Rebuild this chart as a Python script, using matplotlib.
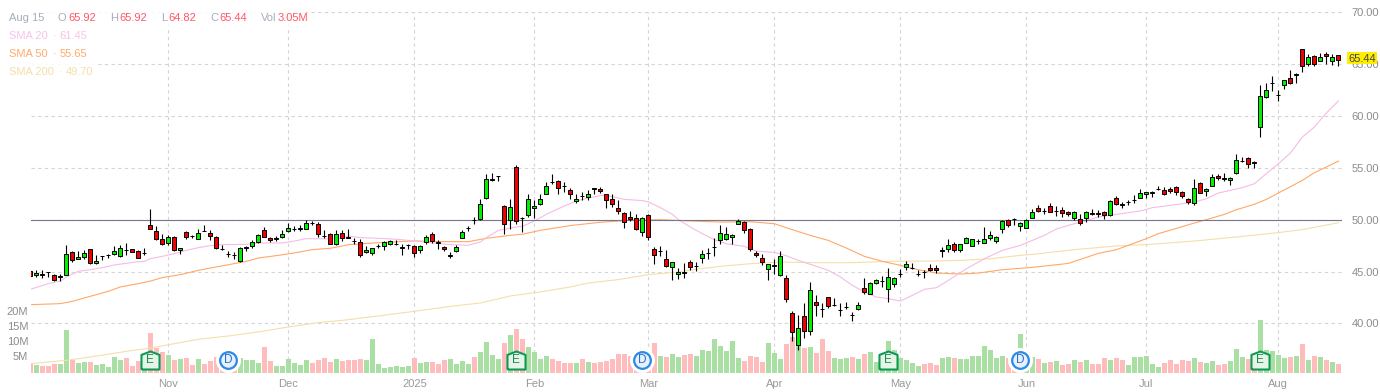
import numpy as np
import matplotlib
matplotlib.use('Agg')
import matplotlib.pyplot as plt
from matplotlib.patches import Rectangle

plt.rcParams['font.family'] = ['Liberation Sans', 'DejaVu Sans']

opens = [
    45.08,44.70,44.72,44.99,44.70,44.50,44.70,46.91,46.24,46.40,
    47.14,45.85,46.48,46.57,46.72,46.50,47.09,47.17,47.01,46.77,
    49.45,48.94,48.17,47.78,48.36,47.07,48.84,48.41,48.17,48.93,
    48.75,48.36,47.19,46.64,46.61,46.01,47.31,47.49,47.85,49.04,
    48.26,48.18,48.33,48.91,49.11,49.14,49.13,49.70,49.58,48.45,
    48.65,47.69,48.75,48.29,47.97,47.88,46.92,46.79,47.44,47.49,
    47.69,47.67,47.31,47.54,47.46,47.08,47.85,48.65,47.80,47.37,
    46.54,46.98,48.27,49.15,49.96,50.07,52.09,53.87,54.19,51.35,
    50.00,55.08,50.18,50.49,51.13,51.55,52.51,53.66,53.76,53.27,
    52.90,51.84,52.27,52.22,53.02,53.00,52.45,52.00,51.16,50.68,
    50.29,50.16,48.85,50.49,47.21,46.99,46.24,45.47,44.79,44.91,
    45.91,45.51,46.30,46.79,47.34,48.03,48.13,48.32,49.61,49.80,
    49.13,46.81,46.33,45.27,45.57,44.66,44.40,41.03,37.94,40.74,
    39.29,42.09,41.40,42.54,41.75,41.26,41.59,40.79,41.41,43.44,
    42.86,43.92,44.06,43.34,43.79,44.74,45.43,45.35,44.74,44.94,
    45.37,45.37,47.02,47.20,47.68,47.10,47.78,47.49,47.92,47.78,
    48.26,47.97,49.13,50.00,50.08,49.42,49.22,50.19,51.09,50.85,
    51.35,50.85,50.96,50.77,50.16,50.06,50.16,50.60,50.60,50.77,
    50.48,52.12,51.54,51.72,51.85,52.12,52.51,52.57,52.97,52.89,
    52.99,53.15,52.67,52.03,51.64,53.54,52.77,53.28,54.24,53.98,
    53.86,54.53,55.64,55.98,55.52,58.97,61.83,63.16,62.04,63.02,
    63.70,64.00,66.49,65.05,65.82,65.34,66.01,65.34,65.92]
highs = [
    45.11,45.18,45.11,45.00,44.79,44.79,47.52,46.98,46.95,47.04,
    47.20,46.56,46.52,46.72,47.43,47.52,47.75,47.20,47.04,47.24,
    51.06,49.36,48.65,48.49,48.43,47.30,48.91,48.55,49.13,49.45,
    49.04,48.46,47.53,46.98,46.85,47.36,47.49,48.01,48.62,49.29,
    48.30,48.43,48.97,49.68,49.36,49.45,50.00,49.90,49.78,48.97,
    48.71,49.04,49.04,49.07,48.27,48.17,47.50,47.30,47.62,47.91,
    48.07,48.01,47.62,47.69,47.59,47.53,48.49,48.78,48.01,47.43,
    46.88,47.53,48.97,49.36,50.26,52.03,54.38,54.50,54.23,51.45,
    52.03,55.31,50.26,52.45,51.87,52.51,53.60,54.38,53.83,53.60,
    53.02,52.45,52.64,52.83,53.02,53.19,52.51,52.45,51.93,50.74,
    50.84,50.58,50.26,50.58,47.37,47.43,47.05,45.92,45.37,45.82,
    46.14,45.91,47.10,47.26,48.26,49.45,49.29,48.65,50.09,49.87,
    49.19,46.97,46.65,45.75,46.23,46.94,44.69,41.15,40.83,41.96,
    43.95,42.70,41.96,42.57,42.41,41.96,42.02,41.09,42.09,44.40,
    44.02,44.31,44.53,45.37,44.47,45.27,45.98,45.82,45.11,45.17,
    45.75,45.66,47.36,48.13,47.87,47.68,48.32,48.16,48.13,49.26,
    48.94,48.42,49.93,50.09,50.16,49.77,50.06,51.06,51.45,51.16,
    51.61,51.29,51.19,50.84,50.87,50.58,50.84,51.06,50.90,50.84,
    51.87,52.31,51.67,51.87,52.35,52.93,52.70,52.77,53.28,53.15,
    53.12,53.22,52.77,52.12,53.96,53.67,53.02,54.37,54.44,54.47,
    54.12,56.30,56.08,56.05,55.63,62.96,63.21,63.89,62.47,63.50,
    64.40,64.18,66.49,66.01,65.85,66.11,66.20,66.01,65.92]
lows = [
    44.47,44.47,44.41,44.47,44.08,44.08,44.63,45.92,46.17,46.24,
    45.76,45.76,46.08,46.30,46.63,46.43,46.63,46.85,46.27,46.56,
    49.10,48.04,47.59,47.53,46.98,46.66,48.14,48.23,48.10,48.90,
    48.01,47.20,47.11,46.40,46.17,45.92,46.98,47.27,47.78,48.30,
    47.85,47.94,48.23,48.84,48.91,48.91,49.10,49.52,48.33,48.23,
    47.62,47.53,47.94,48.20,47.69,46.40,46.79,46.56,47.24,47.04,
    47.56,47.56,46.56,47.21,46.40,46.79,47.62,47.75,47.14,46.95,
    46.30,46.92,48.20,48.88,49.55,50.00,52.03,53.70,53.70,48.59,
    49.10,49.58,48.78,50.26,50.20,51.39,52.45,53.47,52.45,52.67,
    52.03,51.61,51.87,51.87,52.51,52.57,51.13,51.22,50.52,49.20,
    49.87,48.97,48.40,48.01,45.69,46.47,45.44,44.15,44.31,44.38,
    45.17,45.04,45.82,46.17,46.52,47.62,48.07,47.62,49.58,48.71,
    46.97,46.40,45.59,44.14,44.72,44.53,42.02,38.29,37.39,38.62,
    38.87,40.67,40.61,41.48,41.67,40.67,41.35,40.22,41.25,42.79,
    42.79,43.76,43.50,42.05,43.50,44.47,45.11,45.27,44.56,44.37,
    45.04,44.88,46.36,46.85,46.91,46.85,47.75,47.46,47.62,47.75,
    48.07,47.75,48.71,49.29,49.48,48.90,49.16,50.16,50.74,50.58,
    50.71,50.32,50.22,50.35,50.00,49.45,49.81,50.42,50.26,50.06,
    50.35,51.38,51.09,51.41,51.61,52.06,52.06,52.19,52.83,52.38,
    52.57,52.35,52.06,51.51,51.41,52.57,52.25,53.22,53.79,53.76,
    53.31,54.44,55.56,54.98,54.98,57.97,61.74,62.41,61.45,62.64,
    63.05,63.18,64.24,64.82,64.82,65.27,65.01,64.92,64.82]
closes = [
    44.60,44.89,44.70,44.97,44.21,44.57,46.72,46.14,46.43,46.82,
    45.82,46.05,46.50,46.59,47.01,47.30,47.06,46.88,46.30,46.80,
    49.13,48.14,47.69,48.36,47.07,47.30,48.36,48.38,48.75,48.90,
    48.43,47.27,47.16,46.67,46.58,47.30,47.34,47.88,48.55,48.36,
    48.04,48.21,48.65,49.23,49.14,49.17,49.71,49.67,48.65,48.42,
    47.69,48.65,48.23,48.26,47.94,46.60,47.11,47.30,47.46,47.85,
    47.98,47.70,47.33,47.56,46.82,47.46,48.36,47.95,47.77,47.17,
    46.57,47.37,48.85,49.18,49.93,51.55,53.96,53.90,54.21,49.62,
    51.22,49.87,50.16,52.03,51.35,52.03,53.28,53.63,53.09,53.24,
    52.48,52.03,52.25,52.51,53.00,52.77,51.90,51.55,50.84,49.81,
    50.03,49.13,50.20,48.33,46.63,47.02,45.53,45.92,44.99,44.88,
    45.43,45.53,46.68,46.81,47.36,48.74,48.65,48.55,49.90,49.00,
    47.20,46.62,45.95,45.75,45.59,46.52,42.38,39.19,39.58,39.29,
    43.24,41.80,41.37,41.70,41.78,41.29,41.62,40.76,41.80,43.05,
    43.89,44.21,44.09,44.47,44.40,44.77,45.75,45.38,44.77,44.91,
    45.14,45.14,47.05,47.58,47.10,47.62,48.26,48.13,47.95,48.13,
    48.55,48.36,49.87,49.51,50.05,49.64,50.00,50.74,50.84,50.88,
    50.74,50.88,50.64,50.58,50.77,49.68,50.77,50.57,50.57,50.45,
    51.80,51.54,51.41,51.75,51.88,52.60,52.64,52.70,53.00,52.51,
    52.77,52.70,52.28,51.70,53.09,52.60,52.99,54.15,54.02,53.95,
    54.05,55.79,55.67,55.40,55.49,61.96,62.54,63.19,62.07,63.50,
    63.21,64.03,64.85,65.69,65.05,65.69,65.82,65.69,65.44]
volumes = [
    3.4,2.6,2.3,2.3,3.1,2.9,14.2,4.2,3.3,3.6,
    3.8,2.7,2.9,1.9,5.3,4.2,5.0,2.3,3.9,2.7,
    13.3,8.2,7.0,5.9,4.4,4.7,5.0,2.6,4.6,2.9,
    4.1,5.3,4.8,5.3,4.8,4.9,4.2,4.2,3.3,8.6,
    3.9,2.2,2.2,4.6,3.3,2.7,4.2,3.2,4.2,4.9,
    3.6,4.8,3.9,4.2,4.2,4.6,4.2,11.2,2.9,1.7,
    1.9,2.2,1.9,2.2,4.9,3.2,3.6,3.6,2.9,4.2,
    4.6,2.9,3.9,2.9,5.2,6.9,10.2,5.9,4.6,9.9,
    12.6,14.6,11.2,8.6,6.9,4.6,5.6,4.6,4.1,3.2,
    3.2,3.2,4.6,3.6,3.2,3.6,3.9,4.6,6.4,6.2,
    5.7,5.3,8.4,5.3,9.9,5.6,5.2,6.2,5.2,5.9,
    6.3,5.6,7.6,7.2,11.2,8.9,7.2,10.6,4.9,3.9,
    5.6,5.2,3.6,9.9,6.6,4.6,9.6,11.9,10.6,8.2,
    8.6,6.6,11.2,7.2,4.9,4.6,4.9,5.2,4.6,6.2,
    6.9,3.6,6.4,10.6,7.8,5.0,4.2,3.2,2.2,2.9,
    3.2,2.6,5.0,5.2,4.9,4.6,4.6,5.6,5.6,8.9,
    7.6,4.9,5.6,4.9,4.2,12.9,6.4,5.2,4.6,3.2,
    3.6,3.9,2.6,2.9,4.2,3.6,4.2,2.9,2.9,4.9,
    4.2,4.9,4.2,2.6,5.2,5.2,5.6,2.9,1.9,3.2,
    4.2,2.9,4.2,3.9,4.9,3.6,3.2,3.9,2.6,2.9,
    3.9,7.9,5.2,4.6,2.0,17.6,7.8,7.2,5.9,4.9,
    5.2,5.6,9.6,4.2,5.6,5.2,4.2,3.6,3.05]

sma20_x = [0,3,5,6,8,10,12,14,16,18,19,20,22,24,25,26,28,30,32,36,38,42,44,46,50,52,53,55,58,61,
           64,67,70,73,75,76,78,81,82,84,86,88,91,93,95,96,99,102,103,105,107,108,110,112,114,116,119,121,124,126,
           128,131,133,135,137,139,141,143,145,147,149,151,153,156,159,162,165,167,169,171,173,175,178,181,185,187,191,194,196,198,
           202,204,206,208,210,212,214,216,218]
sma20 = [43.28,43.83,44.08,44.47,45.02,45.18,45.37,45.63,45.79,45.95,45.98,46.24,46.46,46.72,46.88,47.04,47.30,47.49,47.59,47.62,47.75,47.75,47.94,48.17,48.14,48.23,48.43,48.27,48.20,48.11,
         47.95,47.75,47.59,47.53,47.85,48.27,48.97,49.30,49.36,49.87,50.52,51.06,51.80,52.09,52.32,52.35,51.96,51.84,51.71,51.16,50.52,50.00,49.29,48.65,48.07,47.68,47.42,46.97,46.84,46.52,
         46.07,45.50,45.11,44.47,43.66,43.02,42.54,42.38,42.15,42.70,43.28,43.44,44.14,45.27,46.23,47.04,47.52,48.00,48.49,49.10,49.45,49.77,50.26,50.51,50.84,51.16,51.45,51.70,52.02,52.57,
         53.09,53.47,54.44,55.40,56.43,57.97,58.94,60.29,61.45]

sma50_x = [0,5,7,10,13,15,18,20,22,25,28,31,34,36,38,41,44,47,50,52,53,58,64,68,73,76,80,82,85,90,
           95,100,105,110,115,120,124,127,130,133,136,139,142,145,148,151,155,158,162,167,173,178,181,186,188,191,194,196,199,201,
           204,206,208,212,214,216,218]
sma50 = [41.80,41.90,42.12,42.61,43.09,43.51,43.83,44.08,44.41,44.70,45.11,45.44,45.76,45.98,46.30,46.53,46.79,47.11,47.24,47.46,47.59,47.78,47.95,47.88,47.88,48.20,48.49,48.59,48.97,49.43,
         49.75,49.94,50.00,49.87,49.77,49.80,49.61,49.03,48.48,48.00,47.26,46.46,45.98,45.59,45.17,44.85,44.76,44.85,45.17,45.40,45.78,46.75,47.10,48.17,48.65,49.16,49.68,50.00,50.51,50.96,
         51.48,51.96,52.57,53.79,54.53,55.08,55.65]

sma200_x = [0,6,10,16,20,24,28,33,38,43,48,52,58,64,70,75,80,85,90,93,98,103,108,110,115,120,125,131,137,143,
            150,155,160,165,167,174,181,186,194,202,208,212,218]
sma200 = [36.11,36.43,36.75,37.30,37.62,38.04,38.46,38.78,39.17,39.65,40.07,40.29,40.71,41.16,41.64,41.96,42.64,43.03,43.51,43.89,44.22,44.70,44.95,45.15,45.50,45.75,45.91,45.85,45.85,45.98,
          46.01,46.07,46.23,46.56,46.65,47.11,47.46,47.59,47.94,48.39,48.75,49.04,49.70]

month_pos = [23, 43, 64, 84, 103, 124, 145, 166, 186, 208]
month_lab = ['Nov', 'Dec', '2025', 'Feb', 'Mar', 'Apr', 'May', 'Jun', 'Jul', 'Aug']
price_ticks = [40, 45, 50, 55, 60, 65, 70]
vol_ticks = [5, 10, 15, 20]
earnings_idx = [20, 81, 143, 205]
dividend_idx = [33, 102, 165]

W, H = 1380, 392
GRAY = '#8c8c8c'


def px(x, y):
    return x / W, 1 - y / H


fig = plt.figure(figsize=(W / 100, H / 100), dpi=100, facecolor='white')
ax = fig.add_axes([31 / W, (H - 373) / H, 1311 / W, 361 / H], zorder=1)
ax_vol = ax.twinx()
ax_top = ax.twinx()
ax_vol.set_zorder(2)
ax_top.set_zorder(3)
for a in (ax_vol, ax_top):
    a.patch.set_visible(False)
for a in (ax, ax_vol, ax_top):
    for s in a.spines.values():
        s.set_visible(False)
    a.set_xlim(0.11, 218.6)

# grid and price scale
ax.set_ylim(35.21, 70.03)
ax_top.set_ylim(35.21, 70.03)
ax_vol.set_ylim(0, 361 / 3)
ax.set_yticks(price_ticks)
ax.set_yticklabels(['%.2f' % p for p in price_ticks])
ax.yaxis.tick_right()
ax.set_xticks(month_pos)
ax.set_xticklabels(month_lab)
ax.tick_params(axis='both', length=0, labelsize=8, labelcolor=GRAY)
ax.tick_params(axis='y', pad=7)
ax.tick_params(axis='x', pad=4, labelcolor='#999999')
ax.grid(True, color='#d4d4d4', lw=0.8, ls=(0, (3, 3)))
ax.set_axisbelow(True)

# volume bars, labels sit a little above their true level like in the source
o = np.array(opens)
c = np.array(closes)
x = np.arange(len(o))
up = c >= o
ax_vol.bar(x, volumes, width=0.84, color=np.where(up, '#a9dfa3', '#ffbcbc'), linewidth=0)
ax_vol.yaxis.tick_left()
ax_vol.set_yticks([v + 0.55 for v in vol_ticks])
ax_vol.set_yticklabels(['%dM' % v for v in vol_ticks])
ax_vol.tick_params(axis='y', length=0, labelsize=8, labelcolor=GRAY, pad=2)
ax_vol.tick_params(axis='x', length=0, labelbottom=False)

# moving averages and 50 line
ax_top.plot(sma200_x, sma200, color='#f5deaa', lw=0.8, zorder=2)
ax_top.plot(sma50_x, sma50, color='#ffa868', lw=0.8, zorder=2)
ax_top.plot(sma20_x, sma20, color='#f5bce4', lw=0.8, zorder=2)
ax_top.axhline(50, color='#77778f', lw=0.8, zorder=2.1)

# candles
ax_top.vlines(x, lows, highs, color='black', lw=0.8, zorder=3)
ax_top.bar(x, np.abs(c - o), bottom=np.minimum(o, c), width=0.68,
           color=np.where(up, '#00f000', '#f00000'), edgecolor='black', linewidth=0.7, zorder=4)
ax_top.tick_params(axis='both', length=0, labelright=False, labelbottom=False)

# earnings and dividend flags
tr = ax_top.get_xaxis_transform()
house = [(-1, -1), (1, -1), (1, 0.62), (0, 1), (-1, 0.62), (-1, -1)]
for i in earnings_idx:
    ax_top.plot(i, 0.036, marker=house, ms=13, mfc='#e6f4e8', mec='#0b9a55', mew=1.5,
                transform=tr, zorder=6, clip_on=False)
    ax_top.text(i, 0.036, 'E', color='#1c8a52', fontsize=8.5, ha='center', va='center',
                transform=tr, zorder=7)
for i in dividend_idx:
    ax_top.plot(i, 0.036, marker='o', ms=17, mfc='white', mec='white', transform=tr, zorder=6)
    ax_top.plot(i, 0.036, marker='o', ms=12, mfc='#e8f0fc', mec='#2b8be3', mew=1.6,
                transform=tr, zorder=6.5)
    ax_top.text(i, 0.036, 'D', color='#2b6fd0', fontsize=8.5, ha='center', va='center',
                transform=tr, zorder=7)

# last price tag
fig.patches.append(Rectangle(px(1347, 64), 30 / W, 12 / H, transform=fig.transFigure,
                             facecolor='#ffee00', edgecolor='none', zorder=5))
fig.text(*px(1362, 58.5), '65.44', color='#444444', fontsize=8, ha='center', va='center', zorder=6)

# legend block, white box fades what runs under it
fig.patches.append(Rectangle(px(0, 28), 306 / W, 20 / H, transform=fig.transFigure,
                             facecolor='white', edgecolor='none', alpha=0.85, zorder=5))
fig.patches.append(Rectangle(px(0, 80), 97 / W, 52 / H, transform=fig.transFigure,
                             facecolor='white', edgecolor='none', alpha=0.9, zorder=5))
LAB = '#a9abbd'
RED = '#ff5566'
row1 = [(9, 'Aug 15', LAB), (58, 'O', LAB), (68.3, '65.92', RED), (110, 'H', LAB), (119.3, '65.92', RED),
        (161, 'L', LAB), (168.3, '64.82', RED), (210, 'C', LAB), (219.3, '65.44', RED),
        (261, 'Vol', LAB), (277.3, '3.05M', RED)]
for xp, txt, col in row1:
    fig.text(*px(xp, 18), txt, color=col, fontsize=8, va='center', zorder=6)
rows = [(36, 'SMA 20', '61.45', '#f7c3e8', 52.6, 59.3),
        (54, 'SMA 50', '55.65', '#ffab6b', 52.6, 59.3),
        (72, 'SMA 200', '49.70', '#f5dfa8', 58.7, 65.3)]
for yp, name, val, col, xd, xv in rows:
    fig.text(*px(9, yp), name, color=col, fontsize=8, va='center', zorder=6)
    fig.text(*px(xd, yp), '\u00b7', color=col, fontsize=8, va='center', zorder=6)
    fig.text(*px(xv, yp), val, color=col, fontsize=8, va='center', zorder=6)

fig.savefig('out.png', dpi=100)
